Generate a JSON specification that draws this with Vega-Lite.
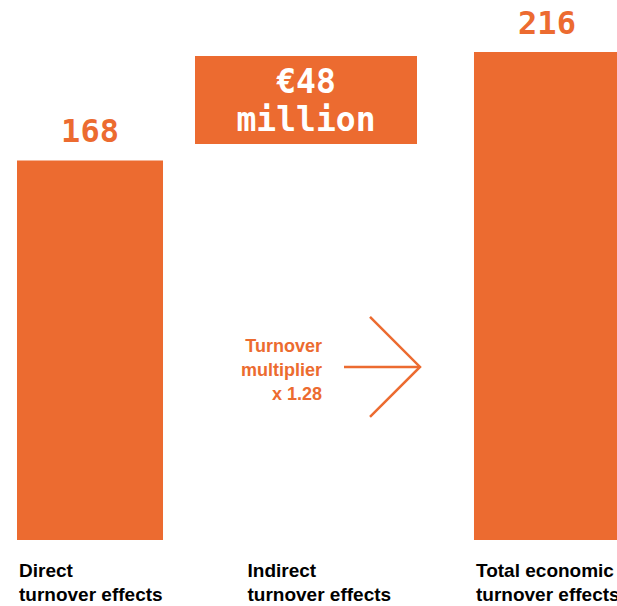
{
  "$schema": "https://vega.github.io/schema/vega-lite/v6.json",
  "width": 617,
  "height": 606,
  "padding": 0,
  "autosize": {"type": "none"},
  "background": "white",
  "config": {"view": {"stroke": null}},
  "data": {
    "values": [
      {"category": "Direct", "label": ["Direct", "turnover effects"], "value": 168, "valueText": "168"},
      {"category": "Indirect", "label": ["Indirect", "turnover effects"], "start": 168, "end": 216, "boxText": ["€48", "million"], "note": ["Turnover", "multiplier", "x 1.28"]},
      {"category": "Total", "label": ["Total economic", "turnover effects"], "value": 216, "valueText": "216"}
    ]
  },
  "encoding": {
    "x": {"field": "category", "type": "nominal", "sort": null, "axis": null,
          "scale": {"domain": ["Direct", "Indirect", "Total"], "range": [17, 620], "paddingInner": 0.361, "paddingOuter": 0}}
  },
  "layer": [
    {
      "transform": [{"filter": "datum.value != null"}],
      "mark": {"type": "bar", "color": "#EC6B30"},
      "encoding": {
        "y": {"field": "value", "type": "quantitative", "axis": null, "scale": {"domain": [0, 216], "range": [540, 52], "nice": false, "zero": true}}
      }
    },
    {
      "transform": [{"filter": "datum.category == 'Indirect'"}],
      "mark": {"type": "bar", "color": "#EC6B30", "width": 222, "xOffset": -12.5, "yOffset": 4, "y2Offset": -16.5},
      "encoding": {
        "y": {"field": "end", "type": "quantitative"},
        "y2": {"field": "start"}
      }
    },
    {
      "transform": [{"filter": "datum.value != null"}],
      "mark": {"type": "text", "color": "#EC6B30", "font": "DejaVu Sans Mono", "fontWeight": "bold", "fontSize": 32, "baseline": "alphabetic", "align": "center", "yOffset": -18},
      "encoding": {
        "y": {"field": "value", "type": "quantitative"},
        "text": {"field": "valueText"}
      }
    },
    {
      "transform": [{"filter": "datum.category == 'Indirect'"}],
      "mark": {"type": "text", "color": "white", "font": "DejaVu Sans Mono", "fontWeight": "bold", "fontSize": 33, "baseline": "alphabetic", "align": "center", "xOffset": -12.5, "yOffset": 41, "lineHeight": 38},
      "encoding": {
        "y": {"field": "end", "type": "quantitative"},
        "text": {"field": "boxText"}
      }
    },
    {
      "mark": {"type": "text", "color": "black", "font": "Liberation Sans", "fontWeight": "bold", "fontSize": 19, "baseline": "alphabetic", "align": "left", "xOffset": 2, "yOffset": 37, "lineHeight": 24},
      "encoding": {
        "x": {"field": "category", "type": "nominal", "sort": null, "bandPosition": 0},
        "y": {"datum": 0, "type": "quantitative"},
        "text": {"field": "label"}
      }
    },
    {
      "transform": [{"filter": "datum.category == 'Indirect'"}],
      "mark": {"type": "text", "color": "#EC6B30", "font": "Liberation Sans", "fontWeight": "bold", "fontSize": 18, "baseline": "alphabetic", "align": "right", "xOffset": 3.5, "yOffset": -15, "lineHeight": 24},
      "encoding": {
        "y": {"datum": 76.6, "type": "quantitative"},
        "text": {"field": "note"}
      }
    },
    {
      "transform": [{"filter": "datum.category == 'Indirect'"}],
      "mark": {"type": "rule", "color": "#EC6B30", "strokeWidth": 2.5, "xOffset": 25.5, "x2Offset": 101.5},
      "encoding": {
        "x2": {"field": "category"},
        "y": {"datum": 76.6, "type": "quantitative"}
      }
    },
    {
      "transform": [{"filter": "datum.category == 'Indirect'"}],
      "mark": {"type": "point", "shape": "M-1,-1L0,0L-1,1", "filled": false, "size": 10000, "stroke": "#EC6B30", "strokeWidth": 2.5, "opacity": 1, "xOffset": 101.5},
      "encoding": {
        "y": {"datum": 76.6, "type": "quantitative"}
      }
    }
  ]
}
